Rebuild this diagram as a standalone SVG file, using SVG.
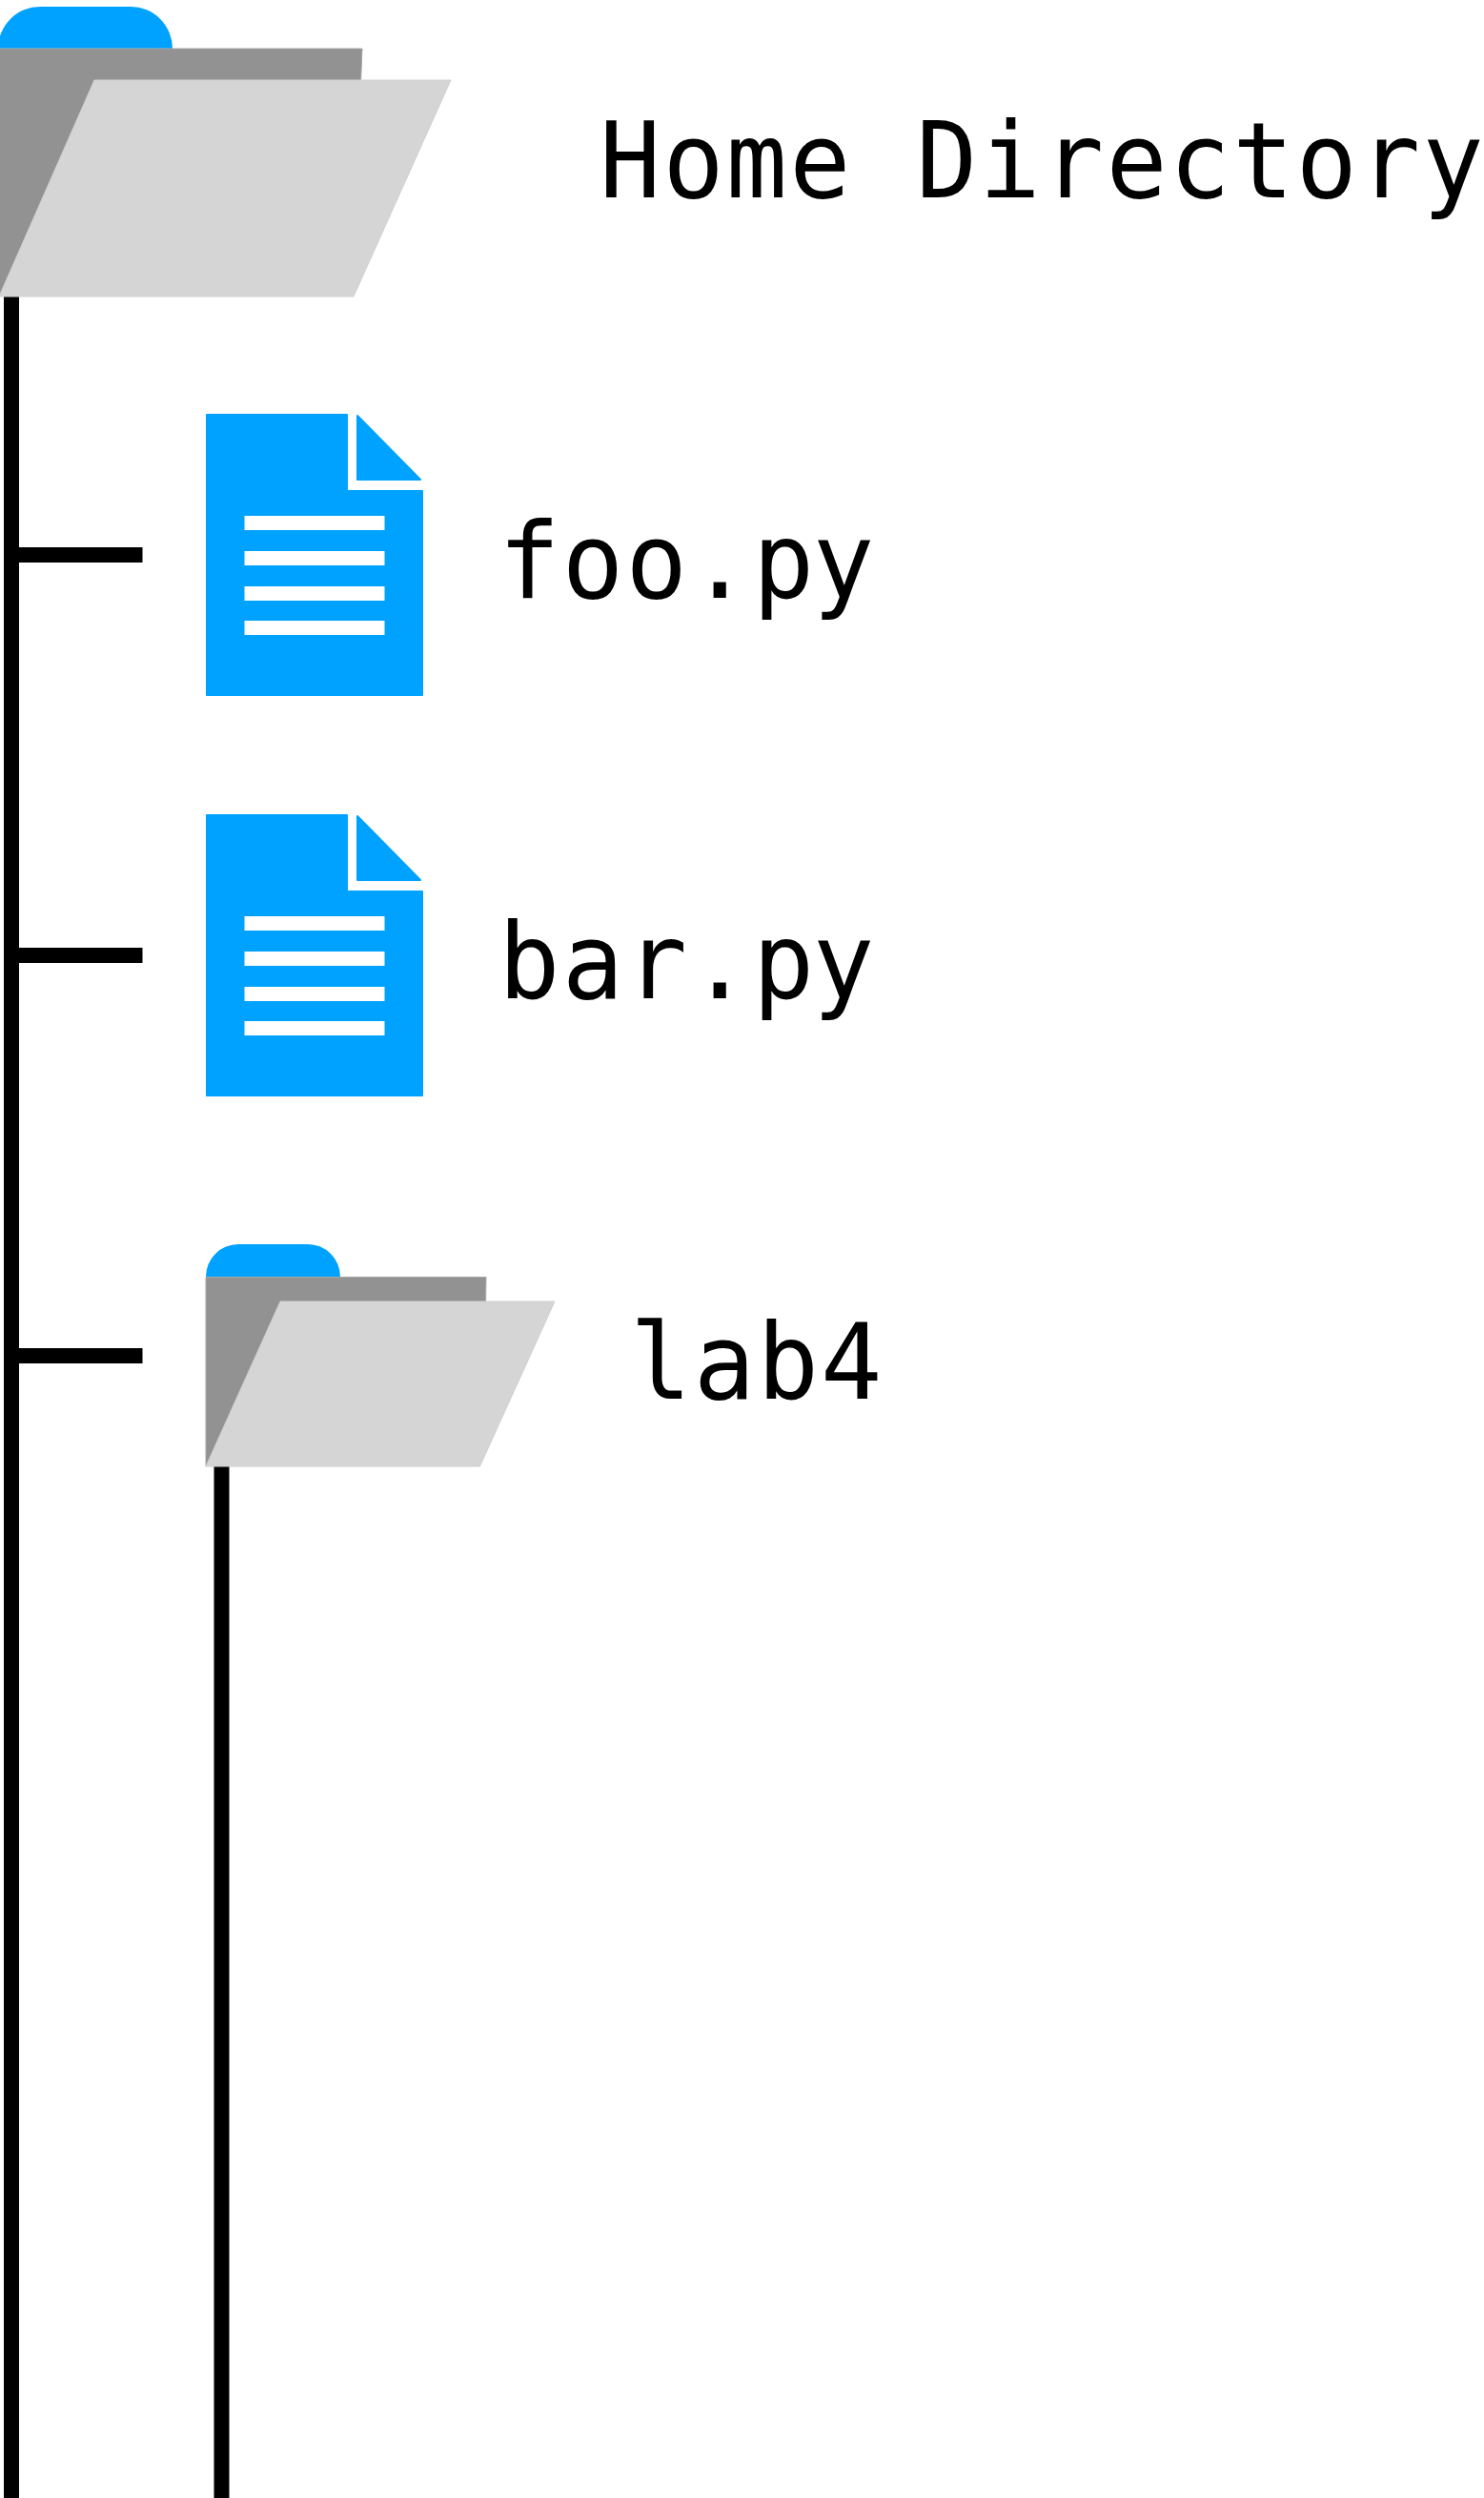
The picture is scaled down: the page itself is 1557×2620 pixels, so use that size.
<svg xmlns="http://www.w3.org/2000/svg" width="1557" height="2620" viewBox="0 0 1557 2620">
<style>
.b{fill:#00a2ff}.d{stroke:#00a2ff;stroke-width:2;stroke-linejoin:round}.g{fill:#929292;stroke:#a8a8a8;stroke-width:1}.l{fill:#d5d5d5;stroke:#d0d0d0;stroke-width:1}.w{fill:#fff}
.c{stroke:#000;stroke-width:16;fill:none}
text{font-family:"DejaVu Sans Mono",monospace;font-size:111px;letter-spacing:2.3px;fill:#000}
#home text{letter-spacing:2.37px}
</style>
<defs>
<g id="doc">
<path class="b d" d="M217 435H364V515H443V729H217Z"/>
<path class="b d" d="M375 436L441 503H375Z"/>
<rect class="w" x="256.500" y="541" width="147" height="15"/>
<rect class="w" x="256.500" y="578" width="147" height="15"/>
<rect class="w" x="256.500" y="615" width="147" height="15"/>
<rect class="w" x="256.500" y="651" width="147" height="15"/>
</g>
</defs>
<g id="connectors">
<path class="c" d="M12 300V2620M20 582H149.500M20 1002H149.500M20 1422H149.500M232.500 1530V2620"/>
</g>
<g id="home">
<path class="b" d="M-2 51A44 44 0 0 1 42 7H137A44 44 0 0 1 181 51Z"/>
<path class="g" d="M-1 51H380L378 100L-1 311Z"/>
<path class="l" d="M99 84H473L371 311H-1Z"/>
<text transform="translate(629 207) scale(.96 1)">Home Directory</text>
</g>
<g id="foo">
<use href="#doc"/>
<text transform="translate(523 627) scale(.965 1)">foo.p<tspan dx="-4">y</tspan></text>
</g>
<g id="bar">
<use href="#doc" y="420"/>
<text transform="translate(523 1047) scale(.965 1)">bar.p<tspan dx="-4">y</tspan></text>
</g>
<g id="lab4">
<path class="b" d="M216 1339A34 34 0 0 1 250 1305H323A34 34 0 0 1 357 1339Z"/>
<path class="g" d="M216 1339.500H510L509 1400L216 1538Z"/>
<path class="l" d="M294 1365H582L503.500 1538H216Z"/>
<text transform="translate(661 1467) scale(.965 1)">lab4</text>
</g>
</svg>
